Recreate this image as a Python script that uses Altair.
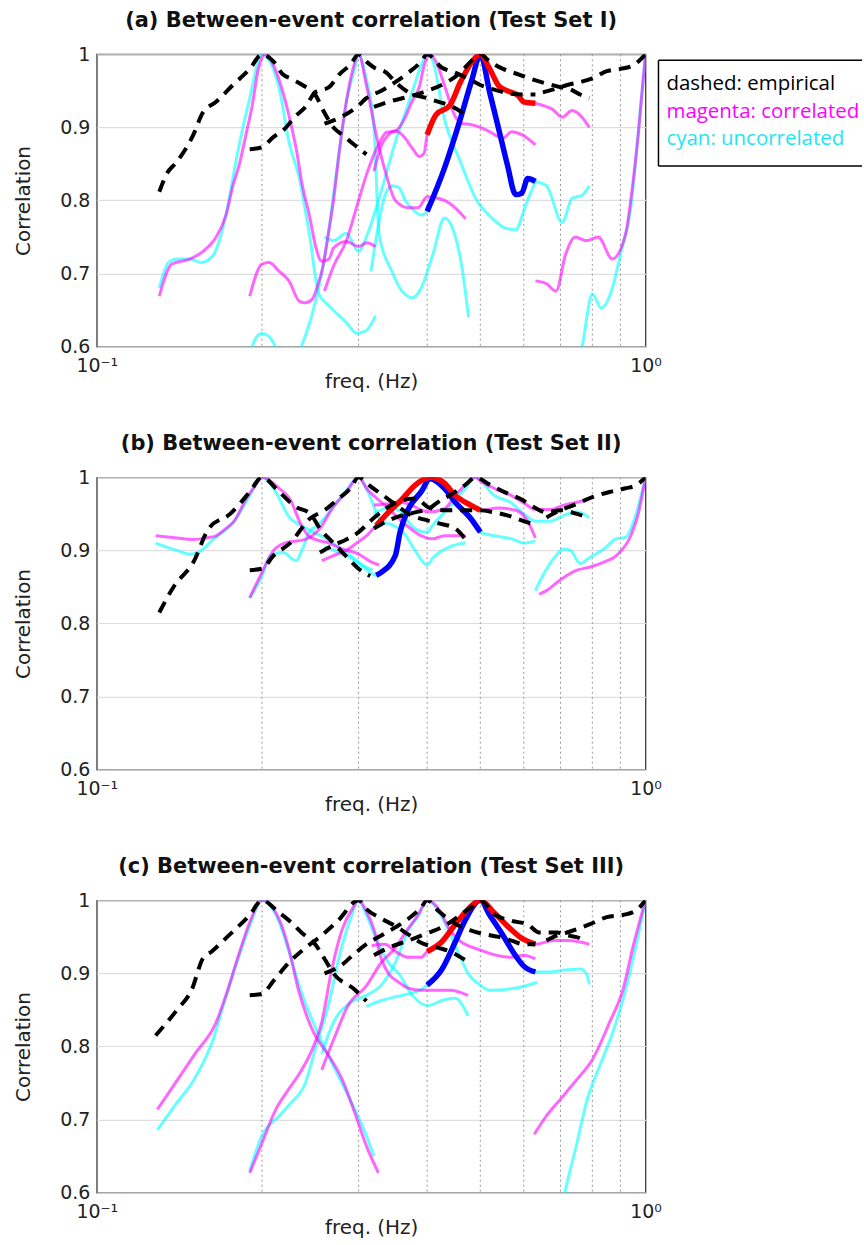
import altair as alt
import pandas as pd

# ---------------- Panel (a) ----------------
a_D1_f = [0.13, 0.134, 0.14, 0.15, 0.156, 0.165, 0.177, 0.19, 0.2, 0.21, 0.218, 0.227, 0.237, 0.25, 0.26, 0.27, 0.28, 0.295, 0.31]
a_D1_c = [0.812, 0.836, 0.853, 0.89, 0.92, 0.935, 0.958, 0.98, 1.0, 0.99, 0.973, 0.966, 0.958, 0.945, 0.92, 0.9, 0.89, 0.876, 0.863]
a_D2_f = [0.19, 0.2, 0.21, 0.22, 0.23, 0.24, 0.25, 0.265, 0.277, 0.29, 0.3, 0.31, 0.32, 0.337, 0.35, 0.37, 0.4, 0.42, 0.44, 0.47]
a_D2_c = [0.87, 0.873, 0.887, 0.898, 0.915, 0.928, 0.948, 0.955, 0.973, 0.986, 1.0, 0.99, 0.982, 0.975, 0.962, 0.948, 0.94, 0.935, 0.93, 0.917]
a_D3_f = [0.26, 0.28, 0.3, 0.31, 0.33, 0.35, 0.37, 0.39, 0.4, 0.425, 0.45, 0.48, 0.5, 0.54, 0.57, 0.6, 0.63]
a_D3_c = [0.905, 0.915, 0.93, 0.94, 0.95, 0.962, 0.975, 0.99, 1.0, 0.982, 0.975, 0.965, 0.958, 0.95, 0.946, 0.945, 0.945]
a_D4_f = [0.32, 0.34, 0.37, 0.4, 0.43, 0.46, 0.48, 0.5, 0.52, 0.55, 0.59, 0.62, 0.66, 0.7, 0.73, 0.76, 0.79]
a_D4_c = [0.928, 0.935, 0.942, 0.95, 0.96, 0.975, 0.99, 1.0, 0.99, 0.98, 0.972, 0.966, 0.96, 0.955, 0.952, 0.945, 0.94]
a_D5_f = [0.65, 0.68, 0.72, 0.76, 0.8, 0.85, 0.9, 0.95, 1.0]
a_D5_c = [0.948, 0.952, 0.958, 0.962, 0.967, 0.977, 0.98, 0.985, 1.0]

a_M1_f = [0.13, 0.137, 0.148, 0.156, 0.165, 0.172, 0.177, 0.182, 0.187, 0.192, 0.197, 0.203, 0.21, 0.218, 0.225, 0.231, 0.237, 0.244, 0.25, 0.257, 0.265, 0.27, 0.285, 0.3, 0.31, 0.322]
a_M1_c = [0.669, 0.713, 0.72, 0.73, 0.75, 0.78, 0.82, 0.85, 0.89, 0.93, 0.98, 1.0, 0.985, 0.95, 0.91, 0.87, 0.82, 0.78, 0.74, 0.717, 0.72, 0.735, 0.744, 0.737, 0.742, 0.737]
a_M2_f = [0.19, 0.2, 0.206, 0.215, 0.224, 0.234, 0.24, 0.247, 0.253, 0.258, 0.263, 0.27, 0.277, 0.285, 0.293, 0.3, 0.31, 0.323, 0.337, 0.35, 0.37, 0.385, 0.4, 0.43, 0.45, 0.47]
a_M2_c = [0.669, 0.713, 0.715, 0.703, 0.69, 0.662, 0.66, 0.665, 0.685, 0.708, 0.745, 0.8, 0.87, 0.935, 0.98, 1.0, 0.958, 0.89, 0.835, 0.8, 0.79, 0.79, 0.805, 0.8, 0.79, 0.775]
a_M3_f = [0.26, 0.27, 0.285, 0.3, 0.31, 0.327, 0.337, 0.35, 0.365, 0.375, 0.387, 0.395, 0.405, 0.415, 0.43, 0.45, 0.465, 0.48, 0.5, 0.52, 0.55, 0.57, 0.595, 0.63]
a_M3_c = [0.676, 0.71, 0.745, 0.8, 0.835, 0.878, 0.893, 0.895, 0.914, 0.935, 0.955, 0.985, 1.0, 0.99, 0.958, 0.915, 0.905, 0.904, 0.9, 0.894, 0.885, 0.894, 0.89, 0.876]
a_M4L_f = [0.32, 0.33, 0.34, 0.35, 0.36, 0.377, 0.387, 0.395]
a_M4L_c = [0.84, 0.875, 0.89, 0.895, 0.89, 0.87, 0.86, 0.865]
a_Red_f = [0.4, 0.415, 0.44, 0.46, 0.483, 0.5, 0.52, 0.54, 0.56, 0.585, 0.6, 0.63]
a_Red_c = [0.89, 0.917, 0.93, 0.962, 0.99, 1.0, 0.98, 0.957, 0.95, 0.944, 0.935, 0.933]
a_M4R_f = [0.65, 0.676, 0.705, 0.735, 0.766, 0.79]
a_M4R_c = [0.93, 0.925, 0.914, 0.923, 0.914, 0.9]
a_M5_f = [0.63, 0.66, 0.687, 0.715, 0.745, 0.78, 0.82, 0.87, 0.92, 0.94, 0.97, 1.0]
a_M5_c = [0.69, 0.686, 0.676, 0.726, 0.75, 0.745, 0.75, 0.72, 0.754, 0.8, 0.89, 1.0]

a_C1_f = [0.13, 0.135, 0.14, 0.148, 0.155, 0.163, 0.168, 0.173, 0.18, 0.19, 0.2, 0.215, 0.224, 0.234, 0.244, 0.254, 0.265, 0.285, 0.298, 0.31, 0.322]
a_C1_c = [0.68, 0.715, 0.72, 0.72, 0.715, 0.725, 0.75, 0.79, 0.86, 0.94, 1.0, 0.953, 0.88, 0.83, 0.754, 0.672, 0.656, 0.633, 0.618, 0.622, 0.642]
a_C2_f = [0.19, 0.195, 0.2, 0.205, 0.21, 0.22, 0.23, 0.236, 0.25, 0.262, 0.273, 0.285, 0.295, 0.3, 0.31, 0.32, 0.327, 0.345, 0.36, 0.376, 0.39, 0.41, 0.43, 0.445, 0.463, 0.476]
a_C2_c = [0.59, 0.612, 0.618, 0.615, 0.605, 0.57, 0.58, 0.6, 0.66, 0.735, 0.835, 0.935, 0.98, 1.0, 0.965, 0.9, 0.754, 0.703, 0.676, 0.667, 0.68, 0.727, 0.776, 0.762, 0.708, 0.64]
a_C3_f = [0.26, 0.27, 0.285, 0.3, 0.31, 0.32, 0.335, 0.35, 0.365, 0.38, 0.39, 0.4, 0.41, 0.43, 0.46, 0.49, 0.525, 0.556, 0.58, 0.605, 0.63]
a_C3_c = [0.75, 0.745, 0.755, 0.73, 0.75, 0.78, 0.83, 0.88, 0.92, 0.96, 0.985, 1.0, 0.99, 0.912, 0.853, 0.803, 0.776, 0.762, 0.76, 0.794, 0.826]
a_C4L_f = [0.316, 0.325, 0.333, 0.345, 0.355, 0.365, 0.38, 0.39]
a_C4L_c = [0.703, 0.76, 0.8, 0.82, 0.818, 0.8, 0.785, 0.78]
a_Blue_f = [0.4, 0.43, 0.46, 0.483, 0.5, 0.52, 0.54, 0.56, 0.58, 0.595, 0.61, 0.63]
a_Blue_c = [0.785, 0.844, 0.912, 0.966, 1.0, 0.948, 0.898, 0.849, 0.808, 0.81, 0.83, 0.826]
a_C4R_f = [0.66, 0.705, 0.735, 0.766, 0.79]
a_C4R_c = [0.82, 0.77, 0.803, 0.807, 0.82]
a_C5_f = [0.72, 0.766, 0.8, 0.83, 0.87, 0.9, 0.94, 0.98, 1.0]
a_C5_c = [0.55, 0.6, 0.672, 0.653, 0.68, 0.726, 0.79, 0.93, 1.0]

# ---------------- Panel (b) ----------------
b_D1_f = [0.13, 0.138, 0.15, 0.16, 0.175, 0.19, 0.2, 0.215, 0.23, 0.245, 0.255, 0.27, 0.284, 0.3, 0.315]
b_D1_c = [0.815, 0.85, 0.884, 0.93, 0.95, 0.98, 1.0, 0.98, 0.96, 0.95, 0.93, 0.91, 0.893, 0.875, 0.865]
b_D2_f = [0.19, 0.2, 0.21, 0.225, 0.245, 0.26, 0.275, 0.29, 0.3, 0.315, 0.333, 0.35, 0.37, 0.4, 0.42, 0.45, 0.47]
b_D2_c = [0.873, 0.875, 0.893, 0.91, 0.944, 0.955, 0.97, 0.985, 1.0, 0.988, 0.975, 0.963, 0.95, 0.941, 0.937, 0.93, 0.915]
b_D3_f = [0.255, 0.27, 0.285, 0.3, 0.315, 0.333, 0.35, 0.38, 0.405, 0.43, 0.47, 0.5, 0.53, 0.56, 0.6, 0.63]
b_D3_c = [0.897, 0.907, 0.915, 0.925, 0.94, 0.955, 0.965, 0.971, 0.958, 0.955, 0.955, 0.955, 0.952, 0.948, 0.94, 0.935]
b_D4_f = [0.32, 0.35, 0.38, 0.405, 0.415, 0.45, 0.47, 0.49, 0.52, 0.56, 0.59, 0.63, 0.66, 0.7, 0.75, 0.79]
b_D4_c = [0.93, 0.945, 0.952, 0.958, 0.964, 0.98, 0.99, 1.0, 0.99, 0.978, 0.971, 0.958, 0.952, 0.955, 0.95, 0.944]
b_D5_f = [0.66, 0.7, 0.74, 0.8, 0.86, 0.92, 0.96, 1.0]
b_D5_c = [0.945, 0.955, 0.962, 0.973, 0.98, 0.985, 0.989, 1.0]

b_M1_f = [0.128, 0.14, 0.15, 0.158, 0.165, 0.172, 0.178, 0.187, 0.195, 0.2, 0.215, 0.225, 0.235, 0.243, 0.25, 0.265, 0.28, 0.3, 0.315, 0.327]
b_M1_c = [0.92, 0.917, 0.915, 0.917, 0.92, 0.93, 0.94, 0.97, 0.99, 1.0, 0.985, 0.97, 0.937, 0.92, 0.915, 0.91, 0.902, 0.895, 0.885, 0.88]
b_M2_f = [0.19, 0.2, 0.21, 0.22, 0.24, 0.255, 0.27, 0.285, 0.3, 0.31, 0.325, 0.34, 0.35, 0.37, 0.39, 0.41, 0.43, 0.47]
b_M2_c = [0.835, 0.87, 0.9, 0.91, 0.915, 0.93, 0.96, 0.98, 1.0, 0.985, 0.97, 0.958, 0.948, 0.932, 0.92, 0.916, 0.92, 0.92]
b_M3L_f = [0.257, 0.27, 0.285, 0.3, 0.31]
b_M3L_c = [0.886, 0.893, 0.9, 0.912, 0.92]
b_Red_f = [0.323, 0.34, 0.36, 0.38, 0.405, 0.43, 0.45, 0.48, 0.5]
b_Red_c = [0.934, 0.952, 0.97, 0.989, 1.0, 0.992, 0.975, 0.962, 0.955]
b_M3R_f = [0.54, 0.58, 0.61, 0.63]
b_M3R_c = [0.958, 0.955, 0.94, 0.917]
b_M4_f = [0.32, 0.34, 0.357, 0.375, 0.39, 0.405, 0.43, 0.45, 0.47, 0.49, 0.5, 0.53, 0.57, 0.6, 0.63, 0.67, 0.71, 0.75, 0.79]
b_M4_c = [0.962, 0.964, 0.966, 0.962, 0.955, 0.953, 0.957, 0.975, 0.99, 1.0, 0.995, 0.985, 0.975, 0.965, 0.956, 0.956, 0.962, 0.966, 0.97]
b_M5_f = [0.64, 0.66, 0.7, 0.75, 0.79, 0.84, 0.885, 0.94, 0.97, 1.0]
b_M5_c = [0.84, 0.845, 0.86, 0.873, 0.877, 0.884, 0.893, 0.92, 0.95, 1.0]

b_C1_f = [0.128, 0.14, 0.148, 0.155, 0.163, 0.178, 0.19, 0.2, 0.21, 0.225, 0.235, 0.245, 0.262, 0.275, 0.29, 0.305, 0.318]
b_C1_c = [0.91, 0.9, 0.895, 0.9, 0.915, 0.94, 0.975, 1.0, 0.985, 0.944, 0.935, 0.927, 0.916, 0.905, 0.893, 0.88, 0.873]
b_C2_f = [0.19, 0.2, 0.207, 0.218, 0.231, 0.237, 0.245, 0.25, 0.257, 0.27, 0.285, 0.3, 0.31, 0.32, 0.33, 0.345, 0.355, 0.366, 0.38, 0.4, 0.41, 0.44, 0.47]
b_C2_c = [0.835, 0.865, 0.893, 0.897, 0.886, 0.902, 0.927, 0.932, 0.94, 0.96, 0.982, 1.0, 0.985, 0.96, 0.94, 0.935, 0.93, 0.92, 0.9, 0.88, 0.89, 0.905, 0.91]
b_C3L_f = [0.26, 0.275, 0.29, 0.305]
b_C3L_c = [0.905, 0.898, 0.89, 0.878]
b_Blue_f = [0.323, 0.33, 0.35, 0.357, 0.37, 0.39, 0.405, 0.43, 0.45, 0.48, 0.5]
b_Blue_c = [0.866, 0.87, 0.893, 0.925, 0.957, 0.98, 0.998, 0.985, 0.966, 0.944, 0.925]
b_C3R_f = [0.53, 0.57, 0.6, 0.63]
b_C3R_c = [0.92, 0.916, 0.91, 0.913]
b_C4_f = [0.32, 0.34, 0.355, 0.366, 0.38, 0.4, 0.41, 0.44, 0.47, 0.49, 0.53, 0.57, 0.6, 0.63, 0.67, 0.71, 0.75, 0.79]
b_C4_c = [0.95, 0.958, 0.955, 0.943, 0.93, 0.925, 0.935, 0.96, 0.985, 1.0, 0.975, 0.965, 0.95, 0.94, 0.94, 0.948, 0.953, 0.945]
b_C5_f = [0.63, 0.655, 0.68, 0.71, 0.73, 0.76, 0.79, 0.84, 0.885, 0.92, 0.95, 1.0]
b_C5_c = [0.845, 0.87, 0.889, 0.902, 0.9, 0.882, 0.89, 0.902, 0.916, 0.918, 0.938, 1.0]

# ---------------- Panel (c) ----------------
c_D1_f = [0.128, 0.14, 0.149, 0.156, 0.162, 0.174, 0.19, 0.2, 0.215, 0.226, 0.236, 0.25, 0.26, 0.27, 0.295, 0.31]
c_D1_c = [0.815, 0.85, 0.878, 0.92, 0.93, 0.952, 0.98, 1.0, 0.983, 0.97, 0.956, 0.94, 0.92, 0.9, 0.878, 0.862]
c_D2_f = [0.19, 0.2, 0.21, 0.224, 0.24, 0.257, 0.275, 0.3, 0.31, 0.33, 0.35, 0.37, 0.39, 0.42, 0.44, 0.47]
c_D2_c = [0.87, 0.872, 0.89, 0.915, 0.935, 0.952, 0.972, 1.0, 0.988, 0.975, 0.965, 0.953, 0.942, 0.935, 0.93, 0.918]
c_D3_f = [0.26, 0.27, 0.28, 0.29, 0.31, 0.33, 0.35, 0.37, 0.39, 0.4, 0.42, 0.455, 0.48, 0.5, 0.54, 0.57, 0.6, 0.63]
c_D3_c = [0.9, 0.905, 0.912, 0.922, 0.94, 0.952, 0.963, 0.975, 0.99, 1.0, 0.985, 0.966, 0.959, 0.955, 0.95, 0.945, 0.94, 0.94]
c_D4_f = [0.32, 0.34, 0.37, 0.4, 0.43, 0.46, 0.48, 0.5, 0.53, 0.57, 0.61, 0.64, 0.69, 0.72, 0.76, 0.78]
c_D4_c = [0.925, 0.935, 0.945, 0.955, 0.965, 0.98, 0.99, 1.0, 0.981, 0.972, 0.967, 0.956, 0.956, 0.952, 0.948, 0.942]
c_D5_f = [0.66, 0.69, 0.72, 0.79, 0.85, 0.91, 0.96, 1.0]
c_D5_c = [0.945, 0.952, 0.956, 0.967, 0.977, 0.98, 0.986, 1.0]

c_M1_f = [0.129, 0.139, 0.151, 0.165, 0.172, 0.182, 0.19, 0.2, 0.215, 0.224, 0.233, 0.247, 0.265, 0.28, 0.295, 0.31, 0.326]
c_M1_c = [0.714, 0.75, 0.79, 0.833, 0.87, 0.929, 0.97, 1.0, 0.974, 0.933, 0.878, 0.823, 0.787, 0.755, 0.71, 0.664, 0.627]
c_M2_f = [0.19, 0.2, 0.212, 0.222, 0.235, 0.247, 0.257, 0.268, 0.28, 0.293, 0.3, 0.31, 0.32, 0.33, 0.34, 0.355, 0.37, 0.39, 0.44, 0.475]
c_M2_c = [0.627, 0.668, 0.714, 0.738, 0.765, 0.796, 0.833, 0.905, 0.96, 0.99, 1.0, 0.985, 0.96, 0.92, 0.9, 0.888, 0.88, 0.877, 0.877, 0.87]
c_M3_f = [0.257, 0.272, 0.287, 0.31, 0.33, 0.35, 0.365, 0.385, 0.4, 0.42, 0.44, 0.455, 0.5, 0.57, 0.6, 0.63]
c_M3_c = [0.768, 0.815, 0.856, 0.883, 0.915, 0.935, 0.956, 0.98, 1.0, 0.988, 0.96, 0.947, 0.932, 0.922, 0.925, 0.92]
c_M4L_f = [0.317, 0.335, 0.35, 0.37, 0.39]
c_M4L_c = [0.938, 0.94, 0.93, 0.922, 0.922]
c_Red_f = [0.4, 0.425, 0.45, 0.475, 0.5, 0.53, 0.56, 0.59, 0.63]
c_Red_c = [0.93, 0.943, 0.967, 0.988, 1.0, 0.983, 0.965, 0.95, 0.94]
c_M4R_f = [0.68, 0.72, 0.76, 0.79]
c_M4R_c = [0.945, 0.945, 0.943, 0.94]
c_M5_f = [0.627, 0.66, 0.7, 0.75, 0.8, 0.86, 0.91, 0.95, 1.0]
c_M5_c = [0.68, 0.705, 0.728, 0.755, 0.782, 0.833, 0.878, 0.938, 1.0]

c_C1_f = [0.129, 0.139, 0.151, 0.163, 0.17, 0.18, 0.19, 0.2, 0.215, 0.224, 0.235, 0.254, 0.268, 0.287, 0.31, 0.32]
c_C1_c = [0.686, 0.72, 0.757, 0.81, 0.856, 0.915, 0.965, 1.0, 0.97, 0.93, 0.878, 0.815, 0.778, 0.733, 0.678, 0.65]
c_C2_f = [0.19, 0.2, 0.215, 0.226, 0.24, 0.25, 0.265, 0.276, 0.29, 0.3, 0.31, 0.325, 0.34, 0.355, 0.376, 0.4, 0.43, 0.45, 0.475]
c_C2_c = [0.63, 0.678, 0.705, 0.723, 0.75, 0.796, 0.86, 0.92, 0.975, 1.0, 0.98, 0.943, 0.915, 0.9, 0.87, 0.856, 0.864, 0.866, 0.842]
c_C3_f = [0.257, 0.27, 0.29, 0.31, 0.33, 0.35, 0.37, 0.385, 0.4, 0.42, 0.44, 0.455, 0.475, 0.5, 0.52, 0.58, 0.635]
c_C3_c = [0.79, 0.833, 0.86, 0.87, 0.884, 0.915, 0.96, 0.978, 1.0, 0.985, 0.955, 0.93, 0.9, 0.884, 0.877, 0.88, 0.888]
c_C4L_f = [0.31, 0.33, 0.35, 0.37, 0.39]
c_C4L_c = [0.855, 0.863, 0.868, 0.872, 0.878]
c_Blue_f = [0.4, 0.425, 0.45, 0.47, 0.5, 0.52, 0.55, 0.58, 0.6, 0.63]
c_Blue_c = [0.884, 0.905, 0.943, 0.974, 1.0, 0.98, 0.952, 0.924, 0.91, 0.902]
c_C4R_f = [0.67, 0.72, 0.76, 0.78, 0.79]
c_C4R_c = [0.902, 0.905, 0.906, 0.9, 0.885]
c_C5_f = [0.69, 0.72, 0.75, 0.78, 0.83, 0.875, 0.92, 0.96, 1.0]
c_C5_c = [0.55, 0.614, 0.668, 0.723, 0.778, 0.823, 0.878, 0.937, 1.0]

# minor grid positions and axis labels
minor_freqs = [0.2, 0.3, 0.4, 0.5, 0.6, 0.7, 0.8, 0.9]
x_label_values = [0.1, 1.0]
y_label_values = [0.6, 0.7, 0.8, 0.9, 1.0]
titles = ["(a) Between-event correlation (Test Set I)",
          "(b) Between-event correlation (Test Set II)",
          "(c) Between-event correlation (Test Set III)"]
legend_texts = ["dashed: empirical", "magenta: correlated", "cyan: uncorrelated"]
legend_colors = ["#000000", "#ff00ff", "#1ee6f0"]


def build(curves):
    rows = []
    for kind, name, fs, cs in curves:
        for i, (f, c) in enumerate(zip(fs, cs)):
            rows.append({"kind": kind, "curve": name, "f": f, "c": c, "i": i})
    return pd.DataFrame(rows)


panels = [
    build([
        ("emp", "D1", a_D1_f, a_D1_c), ("emp", "D2", a_D2_f, a_D2_c), ("emp", "D3", a_D3_f, a_D3_c),
        ("emp", "D4", a_D4_f, a_D4_c), ("emp", "D5", a_D5_f, a_D5_c),
        ("cor", "M1", a_M1_f, a_M1_c), ("cor", "M2", a_M2_f, a_M2_c), ("cor", "M3", a_M3_f, a_M3_c),
        ("cor", "M4", a_M4L_f + a_Red_f + a_M4R_f, a_M4L_c + a_Red_c + a_M4R_c), ("cor", "M5", a_M5_f, a_M5_c),
        ("unc", "C1", a_C1_f, a_C1_c), ("unc", "C2", a_C2_f, a_C2_c), ("unc", "C3", a_C3_f, a_C3_c),
        ("unc", "C4", a_C4L_f + a_Blue_f + a_C4R_f, a_C4L_c + a_Blue_c + a_C4R_c), ("unc", "C5", a_C5_f, a_C5_c),
        ("red", "R", a_Red_f, a_Red_c), ("blue", "B", a_Blue_f, a_Blue_c),
    ]),
    build([
        ("emp", "D1", b_D1_f, b_D1_c), ("emp", "D2", b_D2_f, b_D2_c), ("emp", "D3", b_D3_f, b_D3_c),
        ("emp", "D4", b_D4_f, b_D4_c), ("emp", "D5", b_D5_f, b_D5_c),
        ("cor", "M1", b_M1_f, b_M1_c), ("cor", "M2", b_M2_f, b_M2_c),
        ("cor", "M3", b_M3L_f + b_Red_f + b_M3R_f, b_M3L_c + b_Red_c + b_M3R_c),
        ("cor", "M4", b_M4_f, b_M4_c), ("cor", "M5", b_M5_f, b_M5_c),
        ("unc", "C1", b_C1_f, b_C1_c), ("unc", "C2", b_C2_f, b_C2_c),
        ("unc", "C3", b_C3L_f + b_Blue_f + b_C3R_f, b_C3L_c + b_Blue_c + b_C3R_c),
        ("unc", "C4", b_C4_f, b_C4_c), ("unc", "C5", b_C5_f, b_C5_c),
        ("red", "R", b_Red_f, b_Red_c), ("blue", "B", b_Blue_f, b_Blue_c),
    ]),
    build([
        ("emp", "D1", c_D1_f, c_D1_c), ("emp", "D2", c_D2_f, c_D2_c), ("emp", "D3", c_D3_f, c_D3_c),
        ("emp", "D4", c_D4_f, c_D4_c), ("emp", "D5", c_D5_f, c_D5_c),
        ("cor", "M1", c_M1_f, c_M1_c), ("cor", "M2", c_M2_f, c_M2_c), ("cor", "M3", c_M3_f, c_M3_c),
        ("cor", "M4", c_M4L_f + c_Red_f + c_M4R_f, c_M4L_c + c_Red_c + c_M4R_c), ("cor", "M5", c_M5_f, c_M5_c),
        ("unc", "C1", c_C1_f, c_C1_c), ("unc", "C2", c_C2_f, c_C2_c), ("unc", "C3", c_C3_f, c_C3_c),
        ("unc", "C4", c_C4L_f + c_Blue_f + c_C4R_f, c_C4L_c + c_Blue_c + c_C4R_c), ("unc", "C5", c_C5_f, c_C5_c),
        ("red", "R", c_Red_f, c_Red_c), ("blue", "B", c_Blue_f, c_Blue_c),
    ]),
]

FONT = "DejaVu Sans"
W, H = 550, 293

xenc = alt.X("f:Q", scale=alt.Scale(type="log", domain=[0.1, 1.0]),
             axis=alt.Axis(values=x_label_values,
                           labelExpr="datum.value < 0.5 ? '10\u207b\u00b9' : '10\u2070'",
                           labelFlush=False, grid=False, ticks=False, domain=False,
                           labelFont=FONT, labelFontSize=19, labelColor="#222",
                           labelPadding=10, title="freq. (Hz)", titleFont=FONT,
                           titleFontSize=20, titleFontWeight="normal", titleColor="#222",
                           titleY=25, titleBaseline="top"))
yenc = alt.Y("c:Q", scale=alt.Scale(domain=[0.6, 1.0]),
             axis=alt.Axis(values=y_label_values,
                           labelExpr="datum.value > 0.999 ? '1' : format(datum.value, '.1f')",
                           grid=True, gridColor="#dedede", gridWidth=1.2, ticks=False, domain=False,
                           labelFont=FONT, labelFontSize=19, labelColor="#222", labelPadding=7,
                           title="Correlation", titleFont=FONT, titleFontSize=20,
                           titleFontWeight="normal", titleColor="#222", titlePadding=26))


def panel(df, title, with_legend=False):
    grid = alt.Chart(pd.DataFrame({"f": minor_freqs})).mark_rule(
        color="#9a9a9a", strokeDash=[2, 3], strokeWidth=1).encode(
        x=alt.X("f:Q", scale=alt.Scale(type="log", domain=[0.1, 1.0])))
    base = alt.Chart(df)
    cyan = base.transform_filter("datum.kind == 'unc'").mark_line(
        color="#00ffff", opacity=0.6, strokeWidth=3, clip=True, interpolate="monotone").encode(
        x=xenc, y=yenc, detail="curve:N", order="i:Q")
    mag = base.transform_filter("datum.kind == 'cor'").mark_line(
        color="#ff00ff", opacity=0.6, strokeWidth=3, clip=True, interpolate="monotone").encode(
        x=xenc, y=yenc, detail="curve:N", order="i:Q")
    blue = base.transform_filter("datum.kind == 'blue'").mark_line(
        color="#0000ff", strokeWidth=5.5, clip=True, interpolate="monotone").encode(
        x=xenc, y=yenc, order="i:Q")
    red = base.transform_filter("datum.kind == 'red'").mark_line(
        color="#ff0000", strokeWidth=5.5, clip=True, interpolate="monotone").encode(
        x=xenc, y=yenc, order="i:Q")
    emp = base.transform_filter("datum.kind == 'emp'").mark_line(
        color="#000000", strokeWidth=4, strokeDash=[12, 8], clip=True, interpolate="monotone").encode(
        x=xenc, y=yenc, detail="curve:N", order="i:Q")
    layers = [grid, cyan, mag, blue, red, emp]
    if with_legend:
        one = pd.DataFrame({"k": [0]})
        lx0, lx1, ly0, ly1 = 563, 767, 6, 112
        layers.append(alt.Chart(one).mark_rule(color="#000", strokeWidth=1.5).encode(
            x=alt.value(lx0), x2=alt.value(lx1), y=alt.value(ly0)))
        layers.append(alt.Chart(one).mark_rule(color="#000", strokeWidth=1.5).encode(
            x=alt.value(lx0), x2=alt.value(lx1), y=alt.value(ly1)))
        layers.append(alt.Chart(one).mark_rule(color="#000", strokeWidth=1.5).encode(
            x=alt.value(lx0), y=alt.value(ly0), y2=alt.value(ly1)))
        for k, (t, col) in enumerate(zip(legend_texts, legend_colors)):
            layers.append(alt.Chart(pd.DataFrame({"t": [t]})).mark_text(
                align="left", baseline="middle", font="Open Sans", fontSize=20.5, color=col).encode(
                text="t:N", x=alt.value(571), y=alt.value(30 + 27.5 * k)))
    return alt.layer(*layers).properties(
        width=W, height=H,
        title=alt.TitleParams(title, font=FONT, fontSize=21, fontWeight="bold", color="#111",
                              anchor="middle", offset=14))


chart = alt.vconcat(
    panel(panels[0], titles[0], with_legend=True),
    panel(panels[1], titles[1]),
    panel(panels[2], titles[2]),
    spacing=40,
).properties(
    padding={"left": 13, "top": 8, "right": 0, "bottom": 0}
).configure_view(
    stroke="#3a3a3a", strokeWidth=1.3
)

chart.save("out.html", embed_options={"renderer": "svg", "actions": False})
